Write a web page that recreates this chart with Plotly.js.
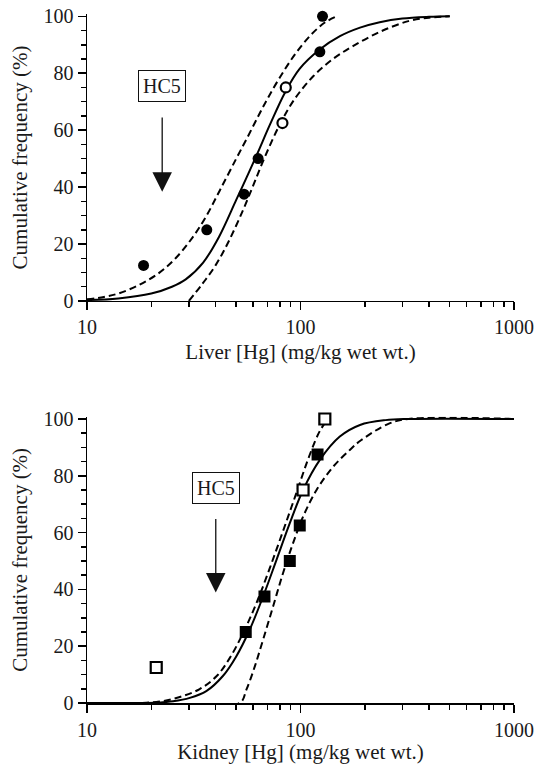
<!DOCTYPE html>
<html>
<head>
<meta charset="utf-8">
<script src="https://cdn.plot.ly/plotly-3.0.1.min.js"></script>
<style>
  html, body { margin: 0; padding: 0; background: #fff; }
  #chart { width: 534px; height: 764px; }
</style>
</head>
<body>
<div id="chart"></div>
<script>
// ---------- Liver (top panel) ----------
const liverFilledX = [18.4, 36.4, 54.4, 63.3, 123.2, 126.8];
const liverFilledY = [12.5, 25, 37.5, 50, 87.5, 100];
const liverOpenX = [82.3, 85.3];
const liverOpenY = [62.5, 75];

const liverFitX = [10, 14, 20, 25, 29, 35, 41.5, 50, 56, 63, 72, 85, 99, 123, 153, 190, 235, 300, 400, 500];
const liverFitY = [0.3, 0.9, 2.6, 5.0, 7.6, 13.5, 22.5, 35.5, 43.5, 52, 62, 73.5, 81.5, 88.3, 93, 96, 97.9, 99.2, 99.8, 100];

const liverBandLeftX = [10, 12, 14, 17.5, 21.7, 26, 31, 36, 42, 50, 56, 63, 70, 80, 94, 112, 130, 148];
const liverBandLeftY = [0.6, 1.4, 2.6, 5.6, 9.8, 15, 22, 29.5, 39, 50, 57, 64.5, 71, 78.5, 86.5, 93.5, 97.8, 100];

const liverBandRightX = [30, 34.7, 40, 46, 53.5, 60, 68, 80, 94, 115, 142, 176, 235, 320, 400, 500];
const liverBandRightY = [0, 6.0, 12.5, 20.8, 31.5, 40.5, 50.5, 62, 71, 79, 85, 89.5, 94.5, 98.3, 99.5, 100];

// ---------- Kidney (bottom panel) ----------
const kidneyFilledX = [55.4, 67.8, 89.1, 99.2, 120.2];
const kidneyFilledY = [25, 37.5, 50, 62.5, 87.5];
const kidneyOpenX = [21.1, 102.8, 130];
const kidneyOpenY = [12.5, 75, 100];

const kidneyFitX = [10, 17.6, 22, 25.3, 30.3, 36.2, 43.4, 50, 57.8, 66.8, 77.2, 89.1, 102.8, 123.2, 152.8, 190, 250, 320, 1000];
const kidneyFitY = [0, 0, 0.2, 0.6, 1.8, 4.2, 9.6, 16.4, 25.8, 37.5, 50.4, 63.3, 75, 85.6, 93.8, 97.9, 99.6, 100, 100];

const kidneyBandLeftX = [10, 17.6, 21.9, 27.2, 33.7, 40.4, 46.6, 53.8, 62.2, 71.8, 82.8, 95.7, 110.6, 123.2, 134.6];
const kidneyBandLeftY = [0, 0, 0.5, 2.1, 4.9, 9.4, 15.8, 24.6, 35.2, 47.5, 60.5, 74, 87.5, 95.8, 100];

const kidneyBandRightX = [21, 51.9, 55.8, 61.1, 66.8, 74.4, 82.8, 92.3, 102.8, 118.9, 142.2, 170.2, 192, 258, 320, 1000];
const kidneyBandRightY = [0, 0, 4.7, 12.9, 22.3, 34, 45.7, 56.3, 65.6, 75, 83.2, 89.1, 92.5, 98.3, 100, 100];

// HC5 values (mg/kg wet wt.)
const hc5Liver = 22.5;
const hc5Kidney = 40.1;

// tick labels
const xMajorTicks = [10, 100, 1000];
const xMajorText = ['10', '100', '1000'];
const xMinorTicks = [20, 30, 40, 50, 60, 70, 80, 90, 200, 300, 400, 500, 600, 700, 800, 900];
const yMajorTicks = [0, 20, 40, 60, 80, 100];

const BLACK = '#000';
const TEXT = '#1a1a1a';
const FONT = 'Liberation Serif, Times New Roman, serif';

function curve(x, y, dash, xa, ya) {
  return {
    type: 'scatter', mode: 'lines', x: x, y: y, xaxis: xa, yaxis: ya,
    line: { color: BLACK, width: 2, dash: dash, shape: 'spline', smoothing: 1 },
    hoverinfo: 'skip', showlegend: false
  };
}
function pts(x, y, symbol, filled, size, xa, ya) {
  return {
    type: 'scatter', mode: 'markers', x: x, y: y, xaxis: xa, yaxis: ya,
    cliponaxis: false,
    marker: {
      symbol: symbol, size: size,
      color: filled ? BLACK : '#fff',
      line: { color: BLACK, width: filled ? 0 : 2.2 }
    },
    hoverinfo: 'skip', showlegend: false
  };
}

const DASH = '7px,4px';
const traces = [
  curve(liverBandLeftX, liverBandLeftY, DASH, 'x', 'y'),
  curve(liverBandRightX, liverBandRightY, DASH, 'x', 'y'),
  curve(liverFitX, liverFitY, 'solid', 'x', 'y'),
  pts(liverFilledX, liverFilledY, 'circle', true, 11, 'x', 'y'),
  pts(liverOpenX, liverOpenY, 'circle', false, 10, 'x', 'y'),

  curve(kidneyBandLeftX, kidneyBandLeftY, DASH, 'x2', 'y2'),
  curve(kidneyBandRightX, kidneyBandRightY, DASH, 'x2', 'y2'),
  curve(kidneyFitX, kidneyFitY, 'solid', 'x2', 'y2'),
  pts(kidneyFilledX, kidneyFilledY, 'square', true, 12, 'x2', 'y2'),
  pts(kidneyOpenX, kidneyOpenY, 'square', false, 11, 'x2', 'y2')
];

function xAxis(anchor, titleText) {
  return {
    type: 'log', range: [1, 3], domain: [0, 1], anchor: anchor,
    tickmode: 'array', tickvals: xMajorTicks, ticktext: xMajorText,
    ticks: 'outside', ticklen: 8, tickwidth: 1.5, tickcolor: BLACK,
    showline: true, linecolor: BLACK, linewidth: 1.5,
    showgrid: false, zeroline: false,
    minor: { tickmode: 'array', tickvals: xMinorTicks, ticks: 'outside', ticklen: 5, tickwidth: 1.5, tickcolor: BLACK, showgrid: false },
    tickfont: { family: FONT, size: 20, color: TEXT },
    title: { text: titleText, font: { family: FONT, size: 21, color: TEXT }, standoff: 7 }
  };
}
function yAxis(anchor, domain) {
  return {
    range: [0, 100.8], domain: domain, anchor: anchor,
    tickmode: 'array', tickvals: yMajorTicks,
    ticks: 'outside', ticklen: 8, tickwidth: 1.5, tickcolor: BLACK,
    showline: true, linecolor: BLACK, linewidth: 1.5,
    showgrid: false, zeroline: false,
    minor: { dtick: 5, ticks: 'outside', ticklen: 5, tickwidth: 1.5, tickcolor: BLACK, showgrid: false },
    tickfont: { family: FONT, size: 20, color: TEXT },
    title: { text: 'Cumulative frequency (%)', font: { family: FONT, size: 21, color: TEXT }, standoff: 10 }
  };
}

function hc5Annotations(xref, yref, hc5, tipY, tailY, boxY) {
  const lx = Math.log10(hc5);
  return [
    {
      xref: xref, yref: yref, axref: xref, ayref: yref,
      x: lx, y: tipY, ax: lx, ay: tailY,
      showarrow: true, arrowhead: 2, arrowsize: 3, arrowwidth: 1.3, arrowcolor: '#111',
      text: '', standoff: 0
    },
    {
      xref: xref, yref: yref, x: lx, y: boxY, showarrow: false,
      text: 'HC5', font: { family: FONT, size: 20, color: TEXT },
      bordercolor: '#111', borderwidth: 1, borderpad: 4, bgcolor: '#fff'
    }
  ];
}

const layout = {
  width: 534, height: 764,
  margin: { l: 87, r: 20, t: 14, b: 61 },
  paper_bgcolor: '#fff', plot_bgcolor: '#fff',
  font: { family: FONT, size: 20, color: TEXT },
  showlegend: false,
  xaxis: xAxis('y', 'Liver [Hg] (mg/kg wet wt.)'),
  yaxis: yAxis('x', [0.5835, 1]),
  xaxis2: xAxis('y2', 'Kidney [Hg] (mg/kg wet wt.)'),
  yaxis2: yAxis('x2', [0, 0.4155]),
  annotations: [].concat(
    hc5Annotations('x', 'y', hc5Liver, 38.4, 65, 75.6),
    hc5Annotations('x2', 'y2', hc5Kidney, 38.9, 65.3, 75.7)
  )
};

Plotly.newPlot('chart', traces, layout, { staticPlot: true, displayModeBar: false });
</script>
</body>
</html>
